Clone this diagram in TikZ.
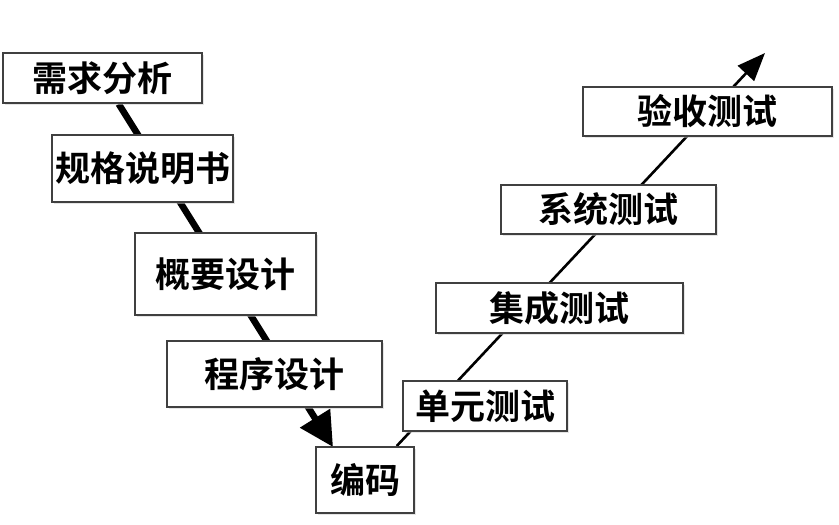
\documentclass[tikz,border=0pt]{standalone}
\usepackage{fontspec}
\newfontfamily\cjk{Noto Sans CJK SC Bold}
\usepackage{tikz}
\usetikzlibrary{arrows.meta}
\usetikzlibrary{backgrounds}
\usetikzlibrary{shadows}
\tikzset{stage/.style={rectangle, draw=black!75, line width=1pt, fill=white, inner sep=0pt,
    drop shadow={shadow xshift=1pt, shadow yshift=-1pt, fill=black!20},
    font=\cjk\fontsize{17.5}{17.5}\selectfont}}

\begin{document}
\begin{tikzpicture}[x=0.5pt,y=-0.5pt]
  \useasboundingbox (0,0) rectangle (839,524);
  \foreach \x/\y/\w/\h/\lab/\txt in {
    102.5/78/199/50/req/需求分析,
    142.5/168.5/181/67/spec/规格说明书,
    225.5/274/181/82/outline/概要设计,
    274.5/374/215/66/prog/程序设计,
    365/480/98/66/code/编码,
    485/406/164/50/unit/单元测试,
    559.5/308/247/50/integ/集成测试,
    608.5/209.5/215/49/sys/系统测试,
    707.5/111.5/249/49/accept/验收测试%
  } {
    \node[stage, minimum width=\w*0.5pt, minimum height=\h*0.5pt] (\lab) at (\x, \y) {\txt};
  }
  \coordinate (down) at (333, 447);
  \coordinate (up) at (765, 53);
  \begin{scope}[on background layer]
    \draw[line width=3.3pt, -{Triangle[length=17pt, width=17pt]}] (req) -- (down);
    \draw[line width=1.3pt, -{Triangle[length=14pt, width=11pt]}] (code) -- (up);
  \end{scope}
\end{tikzpicture}
\end{document}
